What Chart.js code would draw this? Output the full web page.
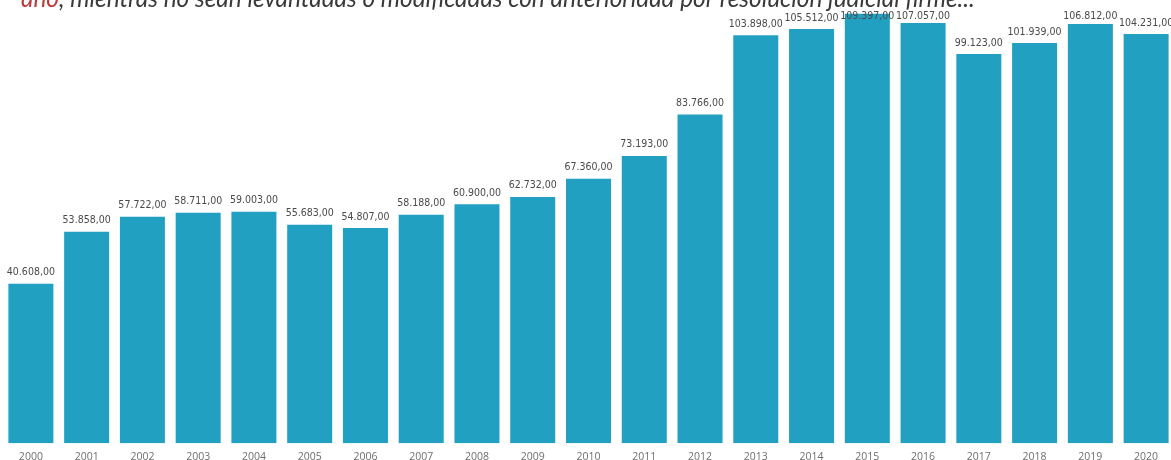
<!DOCTYPE html>
<html><head><meta charset="utf-8">
<script src="https://cdn.jsdelivr.net/npm/chart.js@4.4.0/dist/chart.umd.min.js"></script>
<style>html,body{margin:0;padding:0;background:#fff;overflow:hidden}
#wrap{position:relative;width:1174px;height:460px}</style></head>
<body><div id="wrap"><canvas id="c" width="1174" height="460"></canvas></div>
<script>
const years = ["2000","2001","2002","2003","2004","2005","2006","2007","2008","2009","2010","2011","2012","2013","2014","2015","2016","2017","2018","2019","2020"];
const values = [40608,53858,57722,58711,59003,55683,54807,58188,60900,62732,67360,73193,83766,103898,105512,109397,107057,99123,101939,106812,104231];
const titleRed = "año";
const titleRest = ", mientras no sean levantadas o modificadas con anterioridad por resolución judicial firme...";

function fmt(v){
  const parts = v.toFixed(2).split(".");
  return parts[0].replace(/\B(?=(\d{3})+(?!\d))/g, ".") + "," + parts[1];
}

const titlePlugin = {
  id: 'titleText',
  beforeDraw(chart){
    const ctx = chart.ctx;
    ctx.save();
    let size = 24;
    ctx.font = `italic ${size}px Lato`;
    const w = ctx.measureText(titleRed + titleRest).width;
    size = size * 954 / w;
    ctx.font = `italic ${size}px Lato`;
    ctx.textBaseline = 'alphabetic';
    ctx.textAlign = 'left';
    const x0 = 21, y0 = 6.5;
    ctx.fillStyle = '#c0383a';
    ctx.fillText(titleRed, x0, y0);
    const wr = ctx.measureText(titleRed).width;
    ctx.fillStyle = '#3a3a3a';
    ctx.fillText(titleRest, x0 + wr, y0);
    ctx.restore();
  }
};

const labelPlugin = {
  id: 'barLabels',
  afterDatasetsDraw(chart){
    const ctx = chart.ctx;
    const meta = chart.getDatasetMeta(0);
    ctx.save();
    ctx.font = '10.5px "DejaVu Sans Condensed", "DejaVu Sans"';
    ctx.fillStyle = '#4a4a4a';
    ctx.textAlign = 'center';
    ctx.textBaseline = 'alphabetic';
    meta.data.forEach((bar, i) => {
      const y = Math.max(bar.y - 8.5, 18.5);
      ctx.fillText(fmt(values[i]), bar.x, y);
    });
    ctx.restore();
  }
};

new Chart(document.getElementById('c'), {
  type: 'bar',
  data: {
    labels: years,
    datasets: [{
      data: values,
      backgroundColor: '#22a0c2',
      borderWidth: 0,
      barPercentage: 0.807,
      categoryPercentage: 1.0
    }]
  },
  options: {
    responsive: false,
    animation: false,
    devicePixelRatio: 1,
    layout: { padding: { left: 3, right: 0, top: 0, bottom: 0 } },
    plugins: { legend: { display: false }, tooltip: { enabled: false }, title: { display: false } },
    scales: {
      x: {
        grid: { display: false, drawTicks: false },
        border: { display: false },
        ticks: { color: '#6e6e6e', font: { family: '"Open Sans"', size: 10.5 }, padding: 7, maxRotation: 0, autoSkip: false },
        afterFit(scale){ scale.height = 16.7; }
      },
      y: {
        display: false,
        min: 0,
        max: 112900
      }
    }
  },
  plugins: [titlePlugin, labelPlugin]
});
</script>
</body></html>
